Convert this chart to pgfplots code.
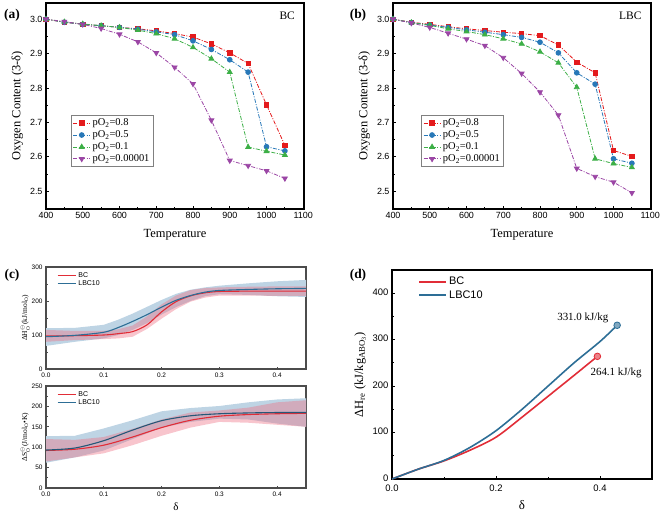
\documentclass[border=0pt]{standalone}
\usepackage{fontspec}
\setmainfont{Liberation Serif}
\setsansfont{Liberation Sans}
\usepackage{pgfplots}
\pgfplotsset{compat=1.18}
\definecolor{cR}{RGB}{228,26,28}
\definecolor{cB}{RGB}{40,120,184}
\definecolor{cG}{RGB}{60,175,70}
\definecolor{cP}{RGB}{155,70,165}
\definecolor{lR}{RGB}{225,45,55}
\definecolor{lB}{RGB}{45,110,150}
\definecolor{bandB}{RGB}{190,212,228}
\definecolor{bandR}{RGB}{238,110,130}
\pgfplotsset{
 ox/.style={scale only axis, width=258bp, height=206bp,
  xmin=400, xmax=1102, ymin=2.448, ymax=3.047,
  xtick={400,500,600,700,800,900,1000,1100}, minor x tick num=1,
  ytick={2.5,2.6,2.7,2.8,2.9,3.0}, minor y tick num=1,
  tick pos=left, tick align=inside, major tick length=3bp, minor tick length=2bp,
  axis line style={line width=1.1bp},
  every tick/.style={black, line width=0.8bp},
  tick label style={font=\sffamily\fontsize{9}{10}\selectfont},
  /pgf/number format/assume math mode=true,
  yticklabel style={/pgf/number format/fixed, /pgf/number format/precision=1, /pgf/number format/fixed zerofill},
  xticklabel style={/pgf/number format/1000 sep={}},
  xlabel={Temperature}, ylabel={Oxygen Content (3-δ)},
  label style={font=\fontsize{12.5}{14}\selectfont},
  xlabel style={yshift=-4bp},
  legend style={font=\fontsize{10.5}{12}\selectfont, draw=gray, line width=0.6bp, inner sep=1.5bp, row sep=-0.5bp, cells={anchor=west}, at={(0.097,0.456)}, anchor=north west},
 },
 dd/.style={line width=0.8bp, dash pattern=on 4bp off 1.5bp on 1bp off 1.5bp, mark options={solid}},
 s1/.style={cR, dd, mark=square*, mark size=2.2bp},
 s2/.style={cB, dd, mark=*, mark size=2.4bp},
 s3/.style={cG, dd, mark=triangle*, mark size=2.8bp},
 s4/.style={cP, dd, mark=triangle*, mark size=2.8bp, mark options={solid, rotate=180}},
 cst/.style={scale only axis, width=260bp, height=102bp, xmin=0, xmax=0.45,
  xtick={0,0.1,0.2,0.3,0.4}, minor x tick num=1, minor y tick num=1,
  tick pos=left, tick align=inside, major tick length=2.5bp, minor tick length=1.5bp,
  axis line style={line width=1.3bp, black!70},
  every tick/.style={black!70, line width=0.7bp},
  tick label style={font=\sffamily\fontsize{6.5}{7}\selectfont},
  /pgf/number format/assume math mode=true,
  xticklabel style={/pgf/number format/fixed, /pgf/number format/precision=1, /pgf/number format/fixed zerofill},
  label style={font=\fontsize{7.5}{8}\selectfont},
  ylabel shift=-5bp,
  legend style={draw=none, fill=none, font=\sffamily\fontsize{7}{8}\selectfont, at={(0.03,0.99)}, anchor=north west, row sep=-2bp, cells={anchor=west}},
 },
}
\begin{document}
\begin{tikzpicture}
\path[use as bounding box] (0bp,0bp) rectangle (661bp,-514bp);

% ---------- (a)
\begin{axis}[ox, at={(46bp,-209bp)}, anchor=south west]
\addplot[s1] coordinates {(400,3.0)(450,2.991)(500,2.985)(550,2.981)(600,2.976)(650,2.972)(700,2.966)(750,2.958)(800,2.948)(850,2.928)(900,2.902)(950,2.871)(1000,2.751)(1050,2.633)};
\addplot[s2] coordinates {(400,3.0)(450,2.991)(500,2.985)(550,2.981)(600,2.976)(650,2.971)(700,2.963)(750,2.955)(800,2.937)(850,2.912)(900,2.882)(950,2.846)(1000,2.629)(1050,2.617)};
\addplot[s3] coordinates {(400,3.0)(450,2.992)(500,2.986)(550,2.981)(600,2.976)(650,2.968)(700,2.958)(750,2.943)(800,2.918)(850,2.885)(900,2.846)(950,2.628)(1000,2.616)(1050,2.605)};
\addplot[s4] coordinates {(400,3.0)(450,2.993)(500,2.985)(550,2.973)(600,2.956)(650,2.934)(700,2.902)(750,2.860)(800,2.812)(850,2.706)(900,2.589)(950,2.574)(1000,2.559)(1050,2.537)};
\legend{pO\textsubscript{2}=0.8, pO\textsubscript{2}=0.5, pO\textsubscript{2}=0.1, pO\textsubscript{2}=0.00001}
\node[font=\fontsize{11.5}{12}\selectfont] at (rel axis cs:0.935,0.94) {BC};
\end{axis}

% ---------- (b)
\begin{axis}[ox, at={(393bp,-209bp)}, anchor=south west, legend style={at={(0.11,0.456)}}]
\addplot[s1] coordinates {(400,3.0)(450,2.991)(500,2.985)(550,2.978)(600,2.972)(650,2.967)(700,2.962)(750,2.958)(800,2.952)(850,2.925)(900,2.875)(950,2.844)(1000,2.618)(1050,2.601)};
\addplot[s2] coordinates {(400,3.0)(450,2.990)(500,2.983)(550,2.976)(600,2.969)(650,2.962)(700,2.955)(750,2.947)(800,2.933)(850,2.902)(900,2.844)(950,2.811)(1000,2.594)(1050,2.581)};
\addplot[s3] coordinates {(400,3.0)(450,2.990)(500,2.982)(550,2.972)(600,2.964)(650,2.955)(700,2.943)(750,2.928)(800,2.905)(850,2.873)(900,2.802)(950,2.594)(1000,2.580)(1050,2.569)};
\addplot[s4] coordinates {(400,3.0)(450,2.989)(500,2.976)(550,2.959)(600,2.942)(650,2.923)(700,2.888)(750,2.842)(800,2.788)(850,2.721)(900,2.566)(950,2.542)(1000,2.526)(1050,2.495)};
\legend{pO\textsubscript{2}=0.8, pO\textsubscript{2}=0.5, pO\textsubscript{2}=0.1, pO\textsubscript{2}=0.00001}
\node[font=\fontsize{11.5}{12}\selectfont] at (rel axis cs:0.92,0.94) {LBC};
\end{axis}

% ---------- (c) top
\begin{axis}[cst, at={(46bp,-369bp)}, anchor=south west, ymin=0, ymax=300, ytick={0,100,200,300},
  ylabel={ΔH$^{\ominus}_{\mathrm{O}}$(kJ/mol$_{\mathrm{O}}$)},
  legend image code/.code={\draw[#1] (0bp,0bp) -- (18bp,0bp);}]
\addlegendimage{lR, line width=1.4bp}
\addlegendentry{BC}
\addlegendimage{lB, line width=1.4bp}
\addlegendentry{LBC10}
\addplot[fill=bandB, draw=none, forget plot] coordinates {(0,120)(0.05,121)(0.1,130)(0.125,145)(0.15,163)(0.175,183)(0.2,203)(0.225,221)(0.25,233)(0.275,240)(0.3,245)(0.35,252)(0.4,258)(0.45,262)
 (0.45,212)(0.4,214)(0.35,218)(0.3,220)(0.275,214)(0.25,200)(0.225,182)(0.2,160)(0.175,135)(0.15,115)(0.125,100)(0.1,90)(0.05,80)(0,68)} -- cycle;
\addplot[fill=bandR, fill opacity=0.4, draw=none, forget plot] coordinates {(0,115)(0.05,112)(0.1,112)(0.125,117)(0.15,128)(0.175,155)(0.2,190)(0.225,216)(0.25,232)(0.275,238)(0.3,240)(0.35,242)(0.4,243)(0.45,243)
 (0.45,215)(0.4,215)(0.35,216)(0.3,216)(0.275,210)(0.25,198)(0.225,176)(0.2,148)(0.175,118)(0.15,95)(0.125,90)(0.1,88)(0.05,85)(0,80)} -- cycle;
\addplot[lR, line width=1.1bp, smooth, forget plot] coordinates {(0,97)(0.05,98)(0.1,100)(0.125,104)(0.15,110)(0.175,130)(0.2,168)(0.225,198)(0.25,215)(0.275,224)(0.3,228)(0.35,229)(0.4,229)(0.45,229)};
\addplot[lB, line width=1.1bp, smooth, forget plot] coordinates {(0,95)(0.05,99)(0.1,108)(0.125,122)(0.15,140)(0.175,160)(0.2,182)(0.225,202)(0.25,216)(0.275,226)(0.3,231)(0.35,234)(0.4,236)(0.45,237)};
\end{axis}

% ---------- (c) bottom
\begin{axis}[cst, at={(46bp,-488bp)}, anchor=south west, ymin=0, ymax=250, ytick={0,50,100,150,200,250},
  ylabel={ΔS$^{\ominus}_{\mathrm{O}}$(J/mol$_{\mathrm{O}}$•K)}, xlabel={δ},
  xlabel style={font=\fontsize{11}{12}\selectfont},
  legend image code/.code={\draw[#1] (0bp,0bp) -- (18bp,0bp);}]
\addlegendimage{lR, line width=1.4bp}
\addlegendentry{BC}
\addlegendimage{lB, line width=1.4bp}
\addlegendentry{LBC10}
\addplot[fill=bandB, draw=none, forget plot] coordinates {(0,127)(0.05,128)(0.1,146)(0.15,166)(0.2,188)(0.25,196)(0.3,201)(0.35,210)(0.4,217)(0.45,220)
 (0.45,150)(0.4,158)(0.35,168)(0.3,170)(0.25,162)(0.2,148)(0.15,120)(0.1,92)(0.05,75)(0,62)} -- cycle;
\addplot[fill=bandR, fill opacity=0.4, draw=none, forget plot] coordinates {(0,120)(0.05,118)(0.1,125)(0.15,145)(0.2,168)(0.25,185)(0.3,190)(0.35,197)(0.4,210)(0.45,215)
 (0.45,150)(0.4,155)(0.35,160)(0.3,162)(0.25,148)(0.2,128)(0.15,105)(0.1,85)(0.05,75)(0,65)} -- cycle;
\addplot[lR, line width=1.1bp, smooth, forget plot] coordinates {(0,92)(0.05,95)(0.1,105)(0.15,125)(0.2,148)(0.25,166)(0.3,176)(0.35,180)(0.4,182)(0.45,183)};
\addplot[lB!80!black, line width=1.1bp, smooth, forget plot] coordinates {(0,93)(0.05,98)(0.1,116)(0.15,142)(0.2,165)(0.25,177)(0.3,182)(0.35,184)(0.4,185)(0.45,185)};
\end{axis}

% ---------- (d)
\begin{axis}[scale only axis, width=260bp, height=209bp, at={(392bp,-479bp)}, anchor=south west,
  xmin=0, xmax=0.5, ymin=0, ymax=450, xtick={0,0.2,0.4}, minor x tick num=1,
  ytick={0,100,200,300,400}, minor y tick num=1,
  tick pos=left, tick align=inside, major tick length=3bp, minor tick length=2bp,
  axis line style={line width=1.1bp}, every tick/.style={black, line width=0.8bp},
  tick label style={font=\sffamily\fontsize{9.5}{10}\selectfont},
  /pgf/number format/assume math mode=true,
  xticklabel style={/pgf/number format/fixed, /pgf/number format/precision=1, /pgf/number format/fixed zerofill, yshift=-2bp},
  yticklabel style={yshift=1bp},
  xlabel={δ}, ylabel={ΔH\textsubscript{re} (kJ/kg\textsubscript{ABO\textsubscript{3}})},
  xlabel style={font=\fontsize{13}{14}\selectfont, yshift=-2bp},
  ylabel style={font=\fontsize{12.5}{14}\selectfont},
  legend style={draw=none, fill=none, font=\sffamily\fontsize{11}{12}\selectfont, at={(0.09,0.985)}, anchor=north west, row sep=0bp, cells={anchor=west}},
  legend image code/.code={\draw[#1] (0bp,0bp) -- (27bp,0bp);}]
\addplot[lR, line width=1.6bp, smooth] coordinates {(0,0)(0.05,21)(0.1,39)(0.15,62)(0.2,90)(0.25,133)(0.3,178)(0.35,223)(0.395,264.1)};
\addplot[lB, line width=1.6bp, smooth] coordinates {(0,0)(0.05,21)(0.1,40)(0.15,68)(0.2,104)(0.25,150)(0.3,200)(0.35,250)(0.4,296)(0.433,331)};
\legend{BC, LBC10}
\addplot[only marks, mark=*, mark size=3.3bp, mark options={fill=lR!60!white, draw=lR, line width=0.8bp}, forget plot] coordinates {(0.395,264.1)};
\addplot[only marks, mark=*, mark size=3.3bp, mark options={fill=lB!60!white, draw=lB, line width=0.8bp}, forget plot] coordinates {(0.433,331)};
\node[font=\fontsize{11}{12}\selectfont] at (axis cs:0.367,347) {331.0 kJ/kg};
\node[font=\fontsize{11}{12}\selectfont] at (axis cs:0.431,228) {264.1 kJ/kg};
\end{axis}

% panel labels
\node[font=\bfseries\fontsize{13.5}{14}\selectfont] at (12bp,-15bp) {(a)};
\node[font=\bfseries\fontsize{13.5}{14}\selectfont] at (358bp,-15bp) {(b)};
\node[font=\bfseries\fontsize{13.5}{14}\selectfont] at (12bp,-275bp) {(c)};
\node[font=\bfseries\fontsize{13.5}{14}\selectfont] at (358bp,-275bp) {(d)};
\end{tikzpicture}
\end{document}
